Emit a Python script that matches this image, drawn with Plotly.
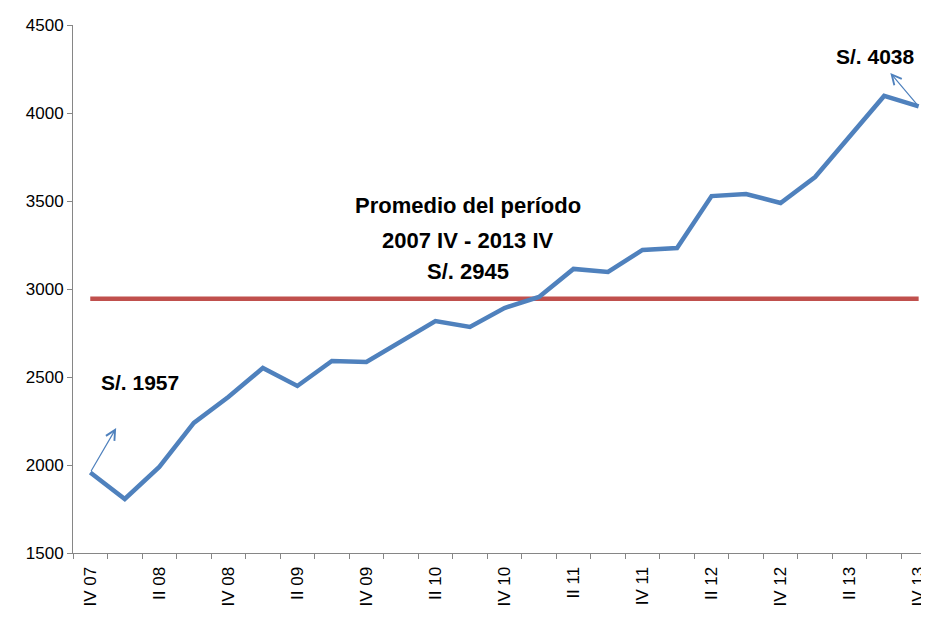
import plotly.graph_objects as go

# Trimestres 2007 IV - 2013 IV
quarters = ["IV 07",
            "I 08", "II 08", "III 08", "IV 08",
            "I 09", "II 09", "III 09", "IV 09",
            "I 10", "II 10", "III 10", "IV 10",
            "I 11", "II 11", "III 11", "IV 11",
            "I 12", "II 12", "III 12", "IV 12",
            "I 13", "II 13", "III 13", "IV 13"]
ingreso = [1957, 1807, 1989, 2239, 2386,
           2551, 2449, 2591, 2585,
           2705, 2818, 2784, 2892,
           2955, 3114, 3097, 3222,
           3233, 3528, 3540, 3489,
           3636, 3864, 4097, 4038]
promedio = 2945
tick_labels = [q if i % 2 == 0 else "" for i, q in enumerate(quarters)]

font_txt = "Liberation Sans, Arial, sans-serif"

fig = go.Figure()
fig.add_trace(go.Scatter(x=quarters, y=[promedio] * len(quarters), mode="lines",
                         line=dict(color="#C0504D", width=4.5), hoverinfo="skip"))
fig.add_trace(go.Scatter(x=quarters, y=ingreso, mode="lines",
                         line=dict(color="#4F81BD", width=4.5)))

# flechas
fig.add_annotation(x=0.75, y=2210, ax=0, ay=ingreso[0], xref="x", yref="y",
                   axref="x", ayref="y", text="", showarrow=True,
                   arrowhead=5, arrowsize=1.6, arrowwidth=1.2, arrowcolor="#4F81BD")
fig.add_annotation(x=23.18, y=4227, ax=24, ay=ingreso[-1], xref="x", yref="y",
                   axref="x", ayref="y", text="", showarrow=True,
                   arrowhead=5, arrowsize=1.6, arrowwidth=1.2, arrowcolor="#4F81BD")

fig.add_annotation(x=1.45, y=2470, xref="x", yref="y", text="<b>S/. 1957</b>",
                   showarrow=False, font=dict(family=font_txt, size=21, color="black"))
fig.add_annotation(x=22.75, y=4320, xref="x", yref="y", text="<b>S/. 4038</b>",
                   showarrow=False, font=dict(family=font_txt, size=21, color="black"))
for txt, yv in [("Promedio del período", 3477),
                ("2007 IV - 2013 IV", 3278),
                ("S/. 2945", 3097)]:
    fig.add_annotation(x=10.95, y=yv, xref="x", yref="y", text="<b>" + txt + "</b>",
                       showarrow=False, yanchor="middle",
                       font=dict(family=font_txt, size=22, color="black"))

fig.update_layout(
    width=921, height=619,
    margin=dict(l=65, r=0, t=17, b=74),
    paper_bgcolor="white", plot_bgcolor="white",
    showlegend=False,
    font=dict(family=font_txt, size=17, color="black"),
    xaxis=dict(type="category", range=[-0.5, 24.3], automargin=False,
               tickmode="array", tickvals=quarters, ticktext=tick_labels,
               tickson="boundaries", tickangle=-90, ticklabelstandoff=6,
               ticks="outside", ticklen=5, tickcolor="#868686",
               showline=True, linecolor="#868686", linewidth=1,
               showgrid=False, zeroline=False),
    yaxis=dict(range=[1500, 4500], dtick=500, tick0=1500, automargin=False,
               ticks="outside", ticklen=5, tickcolor="#868686",
               showline=True, linecolor="#868686", linewidth=1,
               showgrid=False, zeroline=False),
)

fig.write_html("out.html")
